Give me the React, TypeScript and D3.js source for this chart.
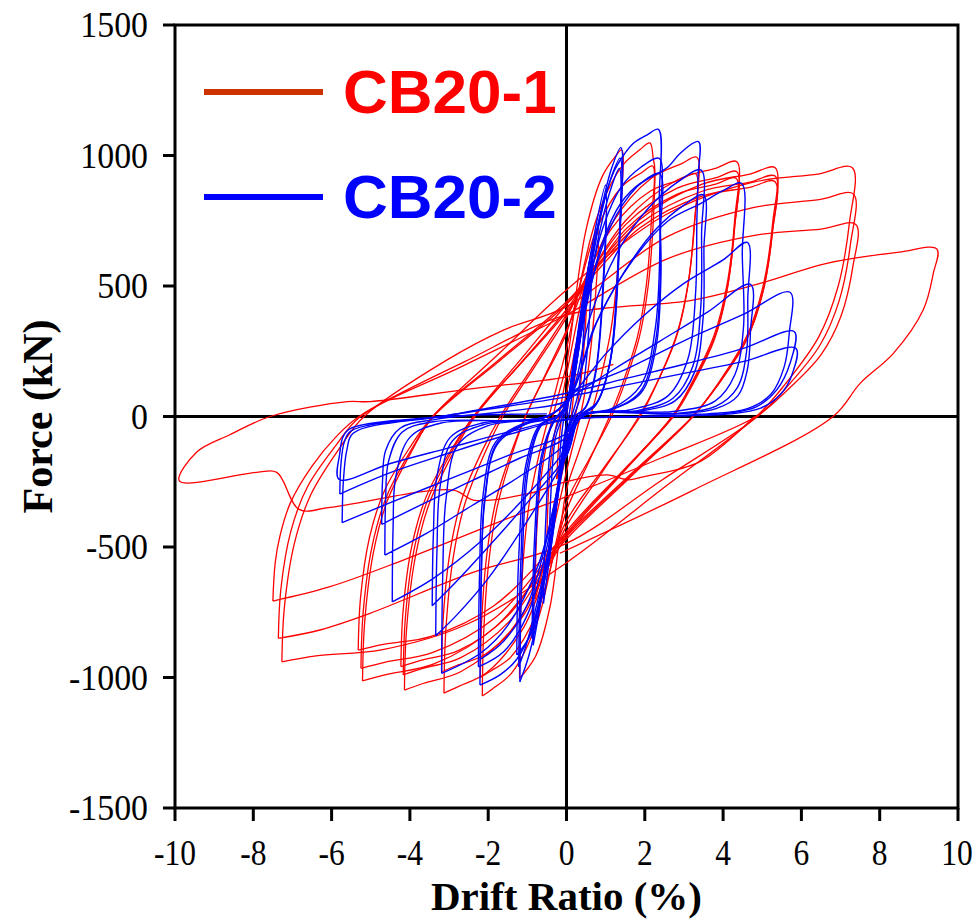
import React from "react";
import * as d3 from "d3";

type Pt = [number, number];

// Drift ratio (%) / force (kN) tick values
const xTicks: number[] = [-10, -8, -6, -4, -2, 0, 2, 4, 6, 8, 10];
const yTicks: number[] = [-1500, -1000, -500, 0, 500, 1000, 1500];

const seriesNames: string[] = ["CB20-1", "CB20-2"];

// CB20-1 hysteresis, one array per cycle (drift %, force kN)
const cb201Cycles: Pt[][] = [
  [[0, 0], [0.12, 130], [0.25, 250], [0.2, 120], [0.12, 0], [0, -80], [-0.13, -160], [-0.25, -240]],
  [[-0.25, -240], [-0.2, -110], [-0.12, 0], [0, 90], [0.25, 280], [0.5, 480], [0.44, 250], [0.3, 60], [0.22, 0], [0, -140], [-0.25, -310], [-0.5, -460]],
  [[-0.5, -460], [-0.44, -240], [-0.3, -60], [-0.2, 0], [0, 160], [0.4, 460], [0.8, 720], [0.72, 420], [0.5, 120], [0.35, 0], [0, -210], [-0.4, -470], [-0.8, -700]],
  [[-0.8, -700], [-0.787, -546], [-0.73, -364], [-0.64, -224], [-0.49, -91], [-0.35, 0], [-0.175, 100], [0, 200], [0.49, 709], [0.92, 922], [1.24, 995], [1.41, 1021], [1.386, 796], [1.29, 531], [1.13, 327], [0.85, 133], [0.61, 0], [0.305, -140], [0, -280], [-0.42, -728], [-0.78, -916], [-1.056, -978], [-1.2, -1003]],
  [[-1.2, -1003], [-1.178, -782], [-1.09, -522], [-0.94, -321], [-0.675, -130], [-0.45, 0], [-0.225, 130], [0, 260], [0.746, 749], [1.385, 953], [1.874, 1022], [2.13, 1048], [2.22, 983], [2.25, 960], [2.217, 749], [2.085, 499], [1.865, 307], [1.48, 125], [1.15, 0], [0.575, -165], [0, -330], [-0.753, -789], [-1.398, -982], [-1.892, -1044], [-2.15, -1071]],
  [[-2.15, -1071], [-2.117, -835], [-1.985, -557], [-1.765, -343], [-1.38, -139], [-1.05, 0], [-0.525, 160], [0, 320], [0.77, 717], [1.43, 883], [1.936, 936], [2.2, 960], [2.167, 749], [2.035, 499], [1.815, 307], [1.43, 125], [1.1, 0], [0.55, -180], [0, -360], [-0.77, -757], [-1.43, -923], [-1.936, -975], [-2.2, -1000]],
  [[-2.2, -1000], [-2.166, -780], [-2.028, -520], [-1.798, -320], [-1.395, -130], [-1.05, 0], [-0.525, 165], [0, 330], [1.166, 741], [2.165, 913], [2.93, 968], [3.33, 993], [3.287, 775], [3.113, 516], [2.823, 318], [2.315, 129], [1.88, 0], [0.94, -200], [0, -400], [-1.096, -809], [-2.035, -981], [-2.754, -1034], [-3.13, -1060]],
  [[-3.13, -1060], [-3.085, -827], [-2.905, -551], [-2.605, -339], [-2.08, -138], [-1.63, 0], [-0.815, 190], [0, 380], [1.155, 721], [2.145, 864], [2.904, 907], [3.3, 930], [3.256, 725], [3.083, 484], [2.793, 298], [2.285, 121], [1.85, 0], [0.925, -210], [0, -420], [-1.117, -766], [-2.074, -911], [-2.807, -954], [-3.19, -978]],
  [[-3.19, -978], [-3.145, -763], [-2.965, -509], [-2.665, -313], [-2.14, -127], [-1.69, 0], [-0.845, 195], [0, 390], [1.523, 753], [2.828, 906], [3.828, 952], [4.35, 976], [4.3, 761], [4.103, 508], [3.773, 312], [3.195, 127], [2.7, 0], [1.35, -230], [0, -460], [-1.449, -825], [-2.691, -977], [-3.643, -1022], [-4.14, -1048]],
  [[-4.14, -1048], [-4.086, -817], [-3.87, -545], [-3.51, -335], [-2.88, -136], [-2.34, 0], [-1.17, 205], [0, 410], [1.523, 737], [2.828, 875], [3.828, 915], [4.35, 938], [4.3, 732], [4.103, 488], [3.773, 300], [3.195, 122], [2.7, 0], [1.35, -225], [0, -450], [-1.46, -785], [-2.711, -925], [-3.67, -965], [-4.17, -990]],
  [[-4.17, -990], [-4.116, -772], [-3.9, -515], [-3.54, -317], [-2.91, -129], [-2.37, 0], [-1.185, 200], [0, 400], [1.516, 718], [2.815, 851], [3.81, 890], [4.33, 913], [4.282, 712], [4.09, 475], [3.77, 292], [3.21, 119], [2.73, 0], [1.365, -220], [0, -440], [-1.48, -761], [-2.75, -896], [-3.722, -934], [-4.23, -958]],
  [[-4.23, -958], [-4.175, -747], [-3.953, -498], [-3.583, -307], [-2.935, -125], [-2.38, 0], [-1.19, 215], [0, 430], [1.866, 754], [3.465, 890], [4.69, 929], [5.33, 953], [5.267, 743], [5.015, 496], [4.595, 305], [3.86, 124], [3.23, 0], [1.615, -235], [0, -470], [-1.824, -807], [-3.387, -948], [-4.585, -988], [-5.21, -1013]],
  [[-5.21, -1013], [-5.156, -790], [-4.94, -527], [-4.58, -324], [-3.95, -132], [-3.41, 0], [-1.705, 220], [0, 440], [1.866, 738], [3.465, 863], [4.69, 898], [5.33, 921], [5.267, 718], [5.015, 479], [4.595, 295], [3.86, 120], [3.23, 0], [1.615, -230], [0, -460], [-1.838, -773], [-3.413, -904], [-4.62, -941], [-5.25, -965]],
  [[-5.25, -965], [-5.195, -753], [-4.973, -502], [-4.603, -309], [-3.955, -125], [-3.4, 0], [-1.7, 215], [0, 430], [1.862, 721], [3.458, 844], [4.682, 878], [5.32, 900], [5.257, 702], [5.005, 468], [4.585, 288], [3.85, 117], [3.22, 0], [1.61, -225], [0, -450], [-1.862, -726], [-3.458, -842], [-4.682, -873], [-5.32, -895]],
  [[-5.32, -895], [-5.263, -698], [-5.035, -465], [-4.655, -286], [-3.99, -116], [-3.42, 0], [-1.71, 243], [0, 485], [2.555, 775], [4.745, 897], [6.424, 929], [7.3, 953], [7.227, 743], [6.933, 496], [6.443, 305], [5.585, 124], [4.85, 0], [2.425, -280], [0, -560], [-2.545, -796], [-4.726, -894], [-6.398, -917], [-7.27, -940]],
  [[-7.27, -940], [-7.207, -733], [-6.955, -489], [-6.535, -301], [-5.8, -122], [-5.17, 0], [-3.06, 216], [-1.61, 331], [0, 421], [2.566, 688], [4.765, 800], [6.45, 831], [7.33, 852], [7.257, 665], [6.963, 443], [6.473, 273], [5.615, 111], [4.88, 0], [2.44, -243], [0, -486], [-2.46, -601], [-5.02, -754], [-6.3, -818], [-7.36, -850]],
  [[-7.36, -850], [-7.297, -663], [-7.045, -442], [-6.625, -272], [-5.89, -111], [-5.26, 0], [-2.63, 195], [0, 390], [2.587, 605], [4.804, 694], [6.503, 718], [7.39, 736], [7.314, 574], [7.008, 383], [6.498, 236], [5.605, 96], [4.84, 0], [2.4, -160], [0, -307], [-1.61, -397], [-4.17, -550], [-6.04, -652], [-7.5, -707]],
  [[-7.5, -707], [-7.44, -560], [-7.32, -458], [-7.05, -330], [-6.5, -190], [-5.9, -80], [-5.3, 0], [-2.6, 210], [0, 389], [3.23, 446], [4.94, 510], [6.65, 587], [8.5, 630], [9.46, 642], [9.37, 549], [9.11, 408], [8.35, 242], [7.5, 127], [6.81, 0], [3.24, -282], [-0.17, -524]],
  [[4.8, 0], [3.41, -173], [1.96, -231], [1.58, -243], [1.03, -224], [-0.17, -256], [-0.93, -294], [-2.38, -320], [-2.89, -282], [-6.04, -348], [-6.83, -356], [-7.4, -214], [-7.91, -214], [-9.89, -247], [-9.45, -137], [-8.6, -70], [-7.57, 0], [-5.6, 57], [-5.02, 57], [-2.5, 105], [0, 152], [1.2, 200]],
];

// CB20-2 hysteresis, one array per cycle (drift %, force kN)
const cb202Cycles: Pt[][] = [
  [[0, 0], [0.1, 120], [0.22, 260], [0.17, 130], [0.08, 20], [-0.03, -50], [-0.1, -130], [-0.2, -250]],
  [[-0.2, -250], [-0.15, -110], [-0.07, -10], [0.05, 70], [0.25, 280], [0.47, 497], [0.42, 280], [0.3, 90], [0.15, 10], [0, -60], [-0.2, -280], [-0.45, -560]],
  [[-0.45, -560], [-0.4, -300], [-0.28, -80], [-0.1, 0], [0.05, 80], [0.35, 370], [0.64, 631], [0.58, 360], [0.42, 110], [0.22, 15], [0, -70], [-0.3, -400], [-0.59, -716]],
  [[-0.59, -716], [-0.53, -400], [-0.4, -120], [-0.18, -10], [0.03, 60], [0.3, 320], [0.65, 650], [1.0, 887], [0.94, 530], [0.75, 180], [0.48, 35], [0.18, -5], [-0.05, -100], [-0.4, -480], [-0.85, -876]],
  [[-0.85, -876], [-0.79, -500], [-0.62, -160], [-0.32, -20], [0, 40], [0.3, 290], [0.65, 610], [1.0, 840], [0.94, 490], [0.74, 160], [0.47, 30], [0.17, -5], [-0.05, -95], [-0.4, -470], [-0.88, -850]],
  [[-0.88, -850], [-0.82, -480], [-0.64, -150], [-0.32, -15], [0, 45], [0.35, 330], [0.8, 730], [1.15, 950], [1.39, 1030], [1.35, 650], [1.14, 230], [0.78, 55], [0.32, 0], [0, -110], [-0.5, -580], [-0.95, -910], [-1.19, -1016]],
  [[-1.19, -1016], [-1.14, -600], [-0.97, -200], [-0.62, -30], [-0.22, 0], [0.05, 60], [0.4, 360], [0.85, 750], [1.15, 920], [1.37, 990], [1.33, 610], [1.11, 205], [0.74, 45], [0.3, 0], [0, -100], [-0.5, -540], [-0.98, -850], [-1.22, -960]],
  [[-1.22, -960], [-1.17, -570], [-1.0, -190], [-0.64, -30], [-0.22, 0], [0.05, 55], [0.4, 340], [0.85, 710], [1.15, 880], [1.35, 950], [1.31, 575], [1.09, 195], [0.72, 38], [0.3, 0], [0, -100], [-0.5, -560], [-0.9, -830], [-1.27, -914]],
  [[-1.27, -914], [-1.22, -540], [-1.03, -180], [-0.67, -30], [-0.22, 0], [0.05, 65], [0.4, 390], [0.8, 730], [1.2, 935], [1.49, 1008], [1.71, 1047], [2.05, 1078], [2.35, 1100], [2.37, 840], [2.39, 700], [2.27, 340], [1.9, 120], [1.15, 30], [0.3, 0], [0, -130], [-0.5, -560], [-0.9, -820], [-1.27, -930], [-1.7, -990], [-2.21, -1029]],
  [[-2.21, -1029], [-2.18, -650], [-2.09, -330], [-1.78, -110], [-1.05, -30], [-0.25, 0], [0.05, 70], [0.45, 410], [0.9, 710], [1.4, 880], [1.9, 955], [2.37, 989], [2.39, 760], [2.4, 560], [2.27, 285], [1.88, 95], [1.12, 25], [0.3, 0], [0, -115], [-0.5, -500], [-1.0, -760], [-1.6, -900], [-2.25, -959]],
  [[-2.25, -959], [-2.22, -600], [-2.13, -300], [-1.82, -100], [-1.08, -25], [-0.25, 0], [0.05, 65], [0.45, 380], [0.9, 660], [1.4, 820], [1.9, 895], [2.38, 930], [2.4, 700], [2.41, 520], [2.28, 260], [1.9, 90], [1.12, 25], [0.3, 0], [0, -110], [-0.5, -470], [-1.0, -720], [-1.6, -860], [-2.2, -930]],
  [[-2.2, -930], [-2.17, -560], [-2.08, -300], [-1.77, -100], [-1.0, -25], [-0.25, 0], [0.08, 80], [0.5, 430], [1.1, 720], [1.8, 880], [2.6, 957], [2.9, 1008], [3.37, 1053], [3.36, 919], [3.33, 753], [3.3, 480], [3.1, 220], [2.6, 80], [1.6, 25], [0.4, 0], [0, -140], [-0.7, -560], [-1.5, -800], [-2.2, -907], [-3.19, -984]],
  [[-3.19, -984], [-3.16, -600], [-3.08, -320], [-2.78, -110], [-2.0, -35], [-0.5, 0], [0.08, 75], [0.6, 380], [1.3, 630], [2.1, 800], [2.9, 905], [3.44, 944], [3.45, 700], [3.43, 420], [3.22, 190], [2.72, 70], [1.72, 20], [0.4, 0], [0, -150], [-1.0, -400], [-2.0, -620], [-2.8, -760], [-3.34, -840]],
  [[-3.34, -840], [-3.31, -520], [-3.23, -270], [-2.92, -95], [-2.1, -30], [-0.5, 0], [0.08, 70], [0.7, 340], [1.5, 560], [2.3, 720], [3.0, 810], [3.5, 849], [3.51, 640], [3.49, 380], [3.27, 170], [2.77, 60], [1.77, 18], [0.4, 0], [0, -150], [-1.0, -330], [-2.0, -500], [-2.8, -630], [-3.43, -725]],
  [[-3.43, -725], [-3.4, -450], [-3.31, -230], [-2.97, -80], [-2.15, -25], [-0.5, 0], [0.1, 80], [0.8, 370], [1.7, 600], [2.6, 750], [3.41, 815], [4.0, 865], [4.47, 893], [4.49, 620], [4.52, 340], [4.3, 160], [3.8, 60], [2.8, 20], [0.4, 0], [0, -120], [-1.0, -300], [-2.2, -480], [-3.4, -620], [-4.45, -710]],
  [[-4.45, -710], [-4.43, -430], [-4.36, -230], [-4.0, -80], [-3.2, -25], [-0.5, 0], [0.1, 75], [1.0, 240], [2.0, 390], [3.0, 510], [4.0, 600], [4.62, 667], [4.63, 450], [4.6, 250], [4.36, 110], [3.82, 40], [2.8, 12], [0.3, 0], [0, -100], [-1.2, -230], [-2.4, -340], [-3.6, -450], [-4.64, -531]],
  [[-4.64, -531], [-4.62, -320], [-4.55, -175], [-4.2, -60], [-3.4, -20], [-0.5, 0], [0.1, 70], [1.2, 180], [2.4, 290], [3.6, 400], [4.7, 506], [4.7, 330], [4.62, 180], [4.38, 80], [3.82, 30], [2.8, 10], [0.3, 0], [0, -80], [-1.2, -160], [-2.4, -245], [-3.6, -330], [-4.72, -413]],
  [[-4.72, -413], [-4.7, -250], [-4.62, -130], [-4.25, -45], [-3.3, -10], [-1.5, 20], [0, 60], [0.1, 90], [1.5, 180], [3.0, 290], [4.5, 390], [5.71, 476], [5.69, 320], [5.56, 190], [5.22, 85], [4.62, 30], [3.6, 10], [0.3, 0], [0, -64], [-1.5, -150], [-3.0, -240], [-4.5, -330], [-5.73, -407]],
  [[-5.73, -407], [-5.7, -250], [-5.61, -128], [-5.45, -64], [-3.0, 5], [0, 89], [1.5, 145], [3.0, 200], [4.5, 260], [5.82, 325], [5.71, 204], [5.37, 102], [4.86, 38], [4.09, 12], [2.0, 0], [0, -13], [-1.5, -70], [-3.0, -140], [-4.5, -215], [-5.79, -297]],
  [[-5.79, -297], [-5.76, -180], [-5.67, -95], [-5.5, -55], [-3.0, 5], [0, 75], [1.5, 120], [3.0, 165], [4.5, 210], [5.86, 261], [5.77, 165], [5.47, 85], [4.96, 32], [4.2, 10], [2.0, 0], [0, -10], [-1.5, -60], [-3.0, -120], [-4.5, -180], [-5.81, -241], [-5.79, -140], [-5.7, -75], [-5.5, -45], [-3.0, 0], [-0.5, 10]],
];

const W = 974;
const H = 921;
const M = { left: 175, right: 958, top: 25, bottom: 808 };

export default function App() {
  const x = d3.scaleLinear().domain([-10, 10]).range([M.left, M.right]);
  const y = d3.scaleLinear().domain([-1500, 1500]).range([M.bottom, M.top]);
  const line = d3
    .line<Pt>()
    .x((d) => x(d[0]))
    .y((d) => y(d[1]))
    .curve(d3.curveCatmullRom.alpha(0.5));

  const serif = "'Liberation Serif', 'Times New Roman', serif";
  const sans = "'Liberation Sans', Arial, sans-serif";

  return (
    <svg
      width={W}
      height={H}
      style={{ position: "absolute", left: 0, top: 0, background: "#fff" }}
    >
      {/* zero lines */}
      <line x1={x(0)} x2={x(0)} y1={M.top} y2={M.bottom} stroke="#000" strokeWidth={3} />
      <line x1={M.left} x2={M.right} y1={y(0)} y2={y(0)} stroke="#000" strokeWidth={3} />

      {/* CB20-1 */}
      <g fill="none" stroke="#FF0000" strokeWidth={1.3} strokeLinejoin="round">
        {cb201Cycles.map((c, i) => (
          <path key={"r" + i} d={line(c) || ""} />
        ))}
      </g>
      {/* CB20-2 */}
      <g fill="none" stroke="#0000FF" strokeWidth={1.4} strokeLinejoin="round">
        {cb202Cycles.map((c, i) => (
          <path key={"b" + i} d={line(c) || ""} />
        ))}
      </g>

      {/* frame */}
      <rect
        x={M.left}
        y={M.top}
        width={M.right - M.left}
        height={M.bottom - M.top}
        fill="none"
        stroke="#000"
        strokeWidth={3}
      />

      {/* y ticks */}
      {yTicks.map((t) => (
        <g key={"yt" + t}>
          <line x1={M.left - 12} x2={M.left} y1={y(t)} y2={y(t)} stroke="#000" strokeWidth={3} />
          <text
            transform={`translate(148,${y(t)}) scale(0.94,1)`}
            dy="0.34em"
            textAnchor="end"
            fontFamily={serif}
            fontSize={36}
            fill="#000"
          >
            {t}
          </text>
        </g>
      ))}
      {/* x ticks */}
      {xTicks.map((t) => (
        <g key={"xt" + t}>
          <line x1={x(t)} x2={x(t)} y1={M.bottom} y2={M.bottom + 13} stroke="#000" strokeWidth={3} />
          <text
            transform={`translate(${Math.min(x(t), W - 17)},865) scale(0.9,1)`}
            textAnchor="middle"
            fontFamily={serif}
            fontSize={35}
            fill="#000"
          >
            {t}
          </text>
        </g>
      ))}

      <text
        x={(M.left + M.right) / 2}
        y={910}
        textAnchor="middle"
        fontFamily={serif}
        fontWeight="bold"
        fontSize={41}
        fill="#000"
      >
        Drift Ratio (%)
      </text>
      <text
        transform={`translate(52,${y(0)}) rotate(-90)`}
        textAnchor="middle"
        fontFamily={serif}
        fontWeight="bold"
        fontSize={42}
        fill="#000"
      >
        Force (kN)
      </text>

      {/* legend */}
      <line x1={204} x2={323} y1={92} y2={92} stroke="#CC3300" strokeWidth={6} />
      <text x={343} y={113} fontFamily={sans} fontWeight="bold" fontSize={62} fill="#FF0000">
        {seriesNames[0]}
      </text>
      <line x1={204} x2={323} y1={197} y2={197} stroke="#0000FF" strokeWidth={6} />
      <text x={343} y={218} fontFamily={sans} fontWeight="bold" fontSize={62} fill="#0000FF">
        {seriesNames[1]}
      </text>
    </svg>
  );
}
